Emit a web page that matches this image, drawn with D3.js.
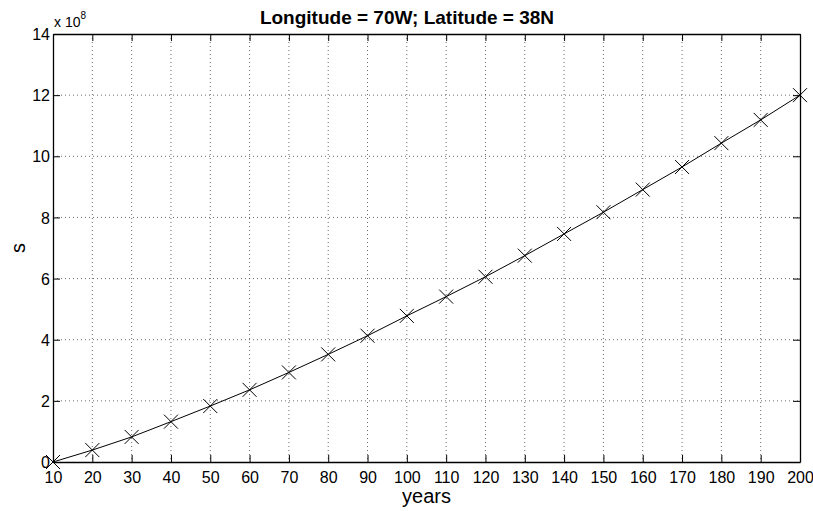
<!DOCTYPE html>
<html>
<head>
<meta charset="utf-8">
<script src="https://cdn.jsdelivr.net/npm/d3@7"></script>
<style>
  body { margin: 0; background: #fff; }
  text { font-family: "Liberation Sans", Arial, sans-serif; fill: #000; }
</style>
</head>
<body>
<svg id="chart" width="813" height="511"></svg>
<script>
// years vs s (in units of 1e8)
const years = [10, 20, 30, 40, 50, 60, 70, 80, 90, 100, 110, 120, 130, 140, 150, 160, 170, 180, 190, 200];
const sValues = [0, 0.39, 0.82, 1.32, 1.83, 2.36, 2.93, 3.52, 4.13, 4.78, 5.41, 6.06, 6.75, 7.46, 8.17, 8.91, 9.65, 10.43, 11.19, 12.0];
const xTicks = [10, 20, 30, 40, 50, 60, 70, 80, 90, 100, 110, 120, 130, 140, 150, 160, 170, 180, 190, 200];
const yTicks = [0, 2, 4, 6, 8, 10, 12, 14];

const svg = d3.select('#chart');
const margin = {left: 53, top: 34, right: 13, bottom: 49};
const width = 813 - margin.left - margin.right;
const height = 511 - margin.top - margin.bottom;

const x = d3.scaleLinear().domain([10, 200]).range([0, width]);
const y = d3.scaleLinear().domain([0, 14]).range([height, 0]);

const g = svg.append('g')
    .attr('transform', `translate(${margin.left},${margin.top})`);

// grid
g.append('g').selectAll('line')
    .data(xTicks.slice(1, -1))
    .enter().append('line')
    .attr('x1', d => x(d)).attr('x2', d => x(d))
    .attr('y1', 0).attr('y2', height)
    .attr('stroke', '#444').attr('stroke-width', 0.8)
    .attr('stroke-dasharray', '1,3');

g.append('g').selectAll('line')
    .data(yTicks.slice(1, -1))
    .enter().append('line')
    .attr('y1', d => y(d)).attr('y2', d => y(d))
    .attr('x1', 0).attr('x2', width)
    .attr('stroke', '#444').attr('stroke-width', 0.8)
    .attr('stroke-dasharray', '1,3');

// axes, ticks pointing inward
const tickLen = 7;
const xAxis = g.append('g')
    .attr('transform', `translate(0,${height})`)
    .call(d3.axisBottom(x).tickValues(xTicks).tickSizeInner(-tickLen).tickSizeOuter(0).tickPadding(10));
const xTop = g.append('g')
    .call(d3.axisTop(x).tickValues(xTicks).tickSizeInner(-tickLen).tickSizeOuter(0).tickFormat(''));
const yAxis = g.append('g')
    .call(d3.axisLeft(y).tickValues(yTicks).tickSizeInner(-tickLen).tickSizeOuter(0).tickPadding(3));
const yRight = g.append('g')
    .attr('transform', `translate(${width},0)`)
    .call(d3.axisRight(y).tickValues(yTicks).tickSizeInner(-tickLen).tickSizeOuter(0).tickFormat(''));

[xAxis, xTop, yAxis, yRight].forEach(a => {
    a.select('.domain').attr('stroke', '#000').attr('stroke-width', 1.3);
    a.selectAll('.tick line').attr('stroke', '#000').attr('stroke-width', 1);
    a.selectAll('.tick text')
        .style('font-family', '"Liberation Sans", Arial, sans-serif')
        .style('font-size', '16px')
        .attr('fill', '#000');
});
yAxis.selectAll('.tick text').attr('dy', '0.35em');

// line
const line = d3.line().x((d, i) => x(years[i])).y(d => y(d));
g.append('path')
    .datum(sValues)
    .attr('d', line)
    .attr('fill', 'none')
    .attr('stroke', '#000')
    .attr('stroke-width', 1);

// x markers
const m = 7;
g.append('g').selectAll('path')
    .data(sValues)
    .enter().append('path')
    .attr('d', (d, i) => {
        const cx = x(years[i]), cy = y(d);
        return `M${cx - m},${cy - m}L${cx + m},${cy + m}M${cx - m},${cy + m}L${cx + m},${cy - m}`;
    })
    .attr('stroke', '#000')
    .attr('stroke-width', 1)
    .attr('fill', 'none');

// title, centred on the figure
svg.append('text')
    .attr('x', 407)
    .attr('y', 24)
    .attr('text-anchor', 'middle')
    .style('font-size', '19px')
    .style('font-weight', 'bold')
    .text('Longitude = 70W; Latitude = 38N');

// exponent
const exp = svg.append('text')
    .attr('x', margin.left + 1)
    .attr('y', 27)
    .style('font-size', '14px');
exp.append('tspan').text('x 10');
exp.append('tspan').attr('dy', -8).style('font-size', '10px').text('8');

// axis labels
svg.append('text')
    .attr('x', margin.left + width / 2)
    .attr('y', 503)
    .attr('text-anchor', 'middle')
    .style('font-size', '20px')
    .text('years');

svg.append('text')
    .attr('transform', `translate(25,${margin.top + height / 2}) rotate(-90)`)
    .attr('text-anchor', 'middle')
    .style('font-size', '20px')
    .text('s');
</script>
</body>
</html>
